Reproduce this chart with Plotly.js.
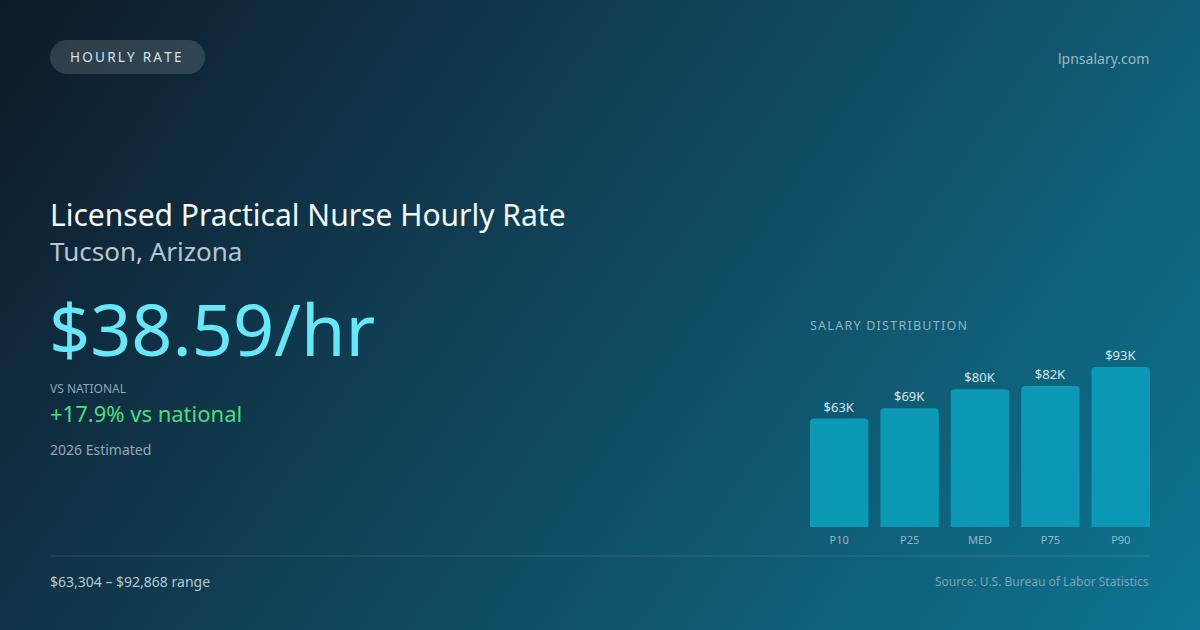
<!DOCTYPE html>
<html>
<head>
<meta charset="utf-8">
<script src="https://cdn.plot.ly/plotly-3.0.1.min.js"></script>
<style>
  html, body { margin: 0; padding: 0; }
  body {
    width: 1200px; height: 630px; overflow: hidden;
    background: linear-gradient(125deg, #0e1a28 0%, #103a4f 35%, #0f5a72 70%, #0d7593 100%);
  }
  #chart { width: 1200px; height: 630px; }
</style>
</head>
<body>
<div id="chart"></div>
<script>
  // salary distribution, in thousands of dollars
  var percentiles = ['P10', 'P25', 'MED', 'P75', 'P90'];
  var salaries = [63, 69, 80, 82, 93];
  var salaryLabels = ['$63K', '$69K', '$80K', '$82K', '$93K'];

  var FONT = 'Noto Sans, Open Sans, sans-serif';

  // pixel y (from top) to paper fraction
  function py(y) { return 1 - y / 630; }
  function spaced(s, sep) { return s.split('').join(sep); }

  var bars = {
    type: 'bar',
    x: percentiles,
    y: salaries,
    text: salaryLabels,
    textposition: 'outside',
    cliponaxis: false,
    textfont: { family: FONT, size: 13, color: '#d3e6ec' },
    marker: { color: '#0b99b6', cornerradius: 4 },
    hoverinfo: 'none'
  };

  function note(text, x, y, size, color, anchor) {
    return {
      text: text, xref: 'paper', yref: 'paper',
      x: x / 1200, y: py(y), xanchor: anchor || 'left', yanchor: 'middle',
      borderpad: 0,
      showarrow: false, font: { family: FONT, size: size, color: color }
    };
  }

  var annotations = [
    note(spaced('HOURLY RATE', '\u2009'), 69, 57, 13.5, '#d6e2e8'),
    note('lpnsalary.com', 1150, 58, 14, '#9ab8c5', 'right'),
    note('Licensed Practical Nurse Hourly Rate', 49, 214, 30, '#f4f8fa'),
    note('Tucson, Arizona', 49, 251, 26, '#b7c7d0'),
    note('$38.59/hr', 48, 328, 72, '#67e8f9'),
    note('VS NATIONAL', 49, 388, 12, '#8ea6b2'),
    note('+17.9% vs national', 49, 413, 22, '#4ade80'),
    note('2026 Estimated', 49, 449, 14, '#93a9b5'),
    note(spaced('SALARY DISTRIBUTION', '\u200A'), 809, 325, 12.5, '#8fb4c2'),
    note('$63,304 \u2013 $92,868 range', 49, 581, 14, '#b6c8d1'),
    note('Source: U.S. Bureau of Labor Statistics', 1150, 581, 12, '#7fa3b1', 'right')
  ];

  var shapes = [
    // badge pill
    {
      type: 'path', xref: 'paper', yref: 'paper',
      xsizemode: 'pixel', ysizemode: 'pixel',
      xanchor: 50 / 1200, yanchor: py(57),
      path: 'M 17 -17 L 138 -17 C 147.4 -17 155 -9.4 155 0 C 155 9.4 147.4 17 138 17 ' +
            'L 17 17 C 7.6 17 0 9.4 0 0 C 0 -9.4 7.6 -17 17 -17 Z',
      fillcolor: 'rgba(255,255,255,0.14)', line: { width: 0 }
    },
    // footer divider
    {
      type: 'line', xref: 'paper', yref: 'paper',
      x0: 50 / 1200, x1: 1150 / 1200, y0: py(556), y1: py(556),
      line: { color: 'rgba(255,255,255,0.13)', width: 1 }
    }
  ];

  var layout = {
    width: 1200, height: 630,
    margin: { l: 0, r: 0, t: 0, b: 0 },
    paper_bgcolor: 'rgba(0,0,0,0)',
    plot_bgcolor: 'rgba(0,0,0,0)',
    showlegend: false,
    bargap: 0.17,
    font: { family: FONT },
    xaxis: {
      domain: [804 / 1200, 1156 / 1200],
      showgrid: false, zeroline: false, showline: false, ticks: '',
      ticklabelstandoff: 5,
      tickfont: { family: FONT, size: 11, color: '#93b7c4' },
      fixedrange: true
    },
    yaxis: {
      domain: [py(527), py(340)],
      range: [0, 108.7],
      visible: false, fixedrange: true
    },
    annotations: annotations,
    shapes: shapes
  };

  Plotly.newPlot('chart', [bars], layout, { displayModeBar: false, staticPlot: true });
</script>
</body>
</html>
